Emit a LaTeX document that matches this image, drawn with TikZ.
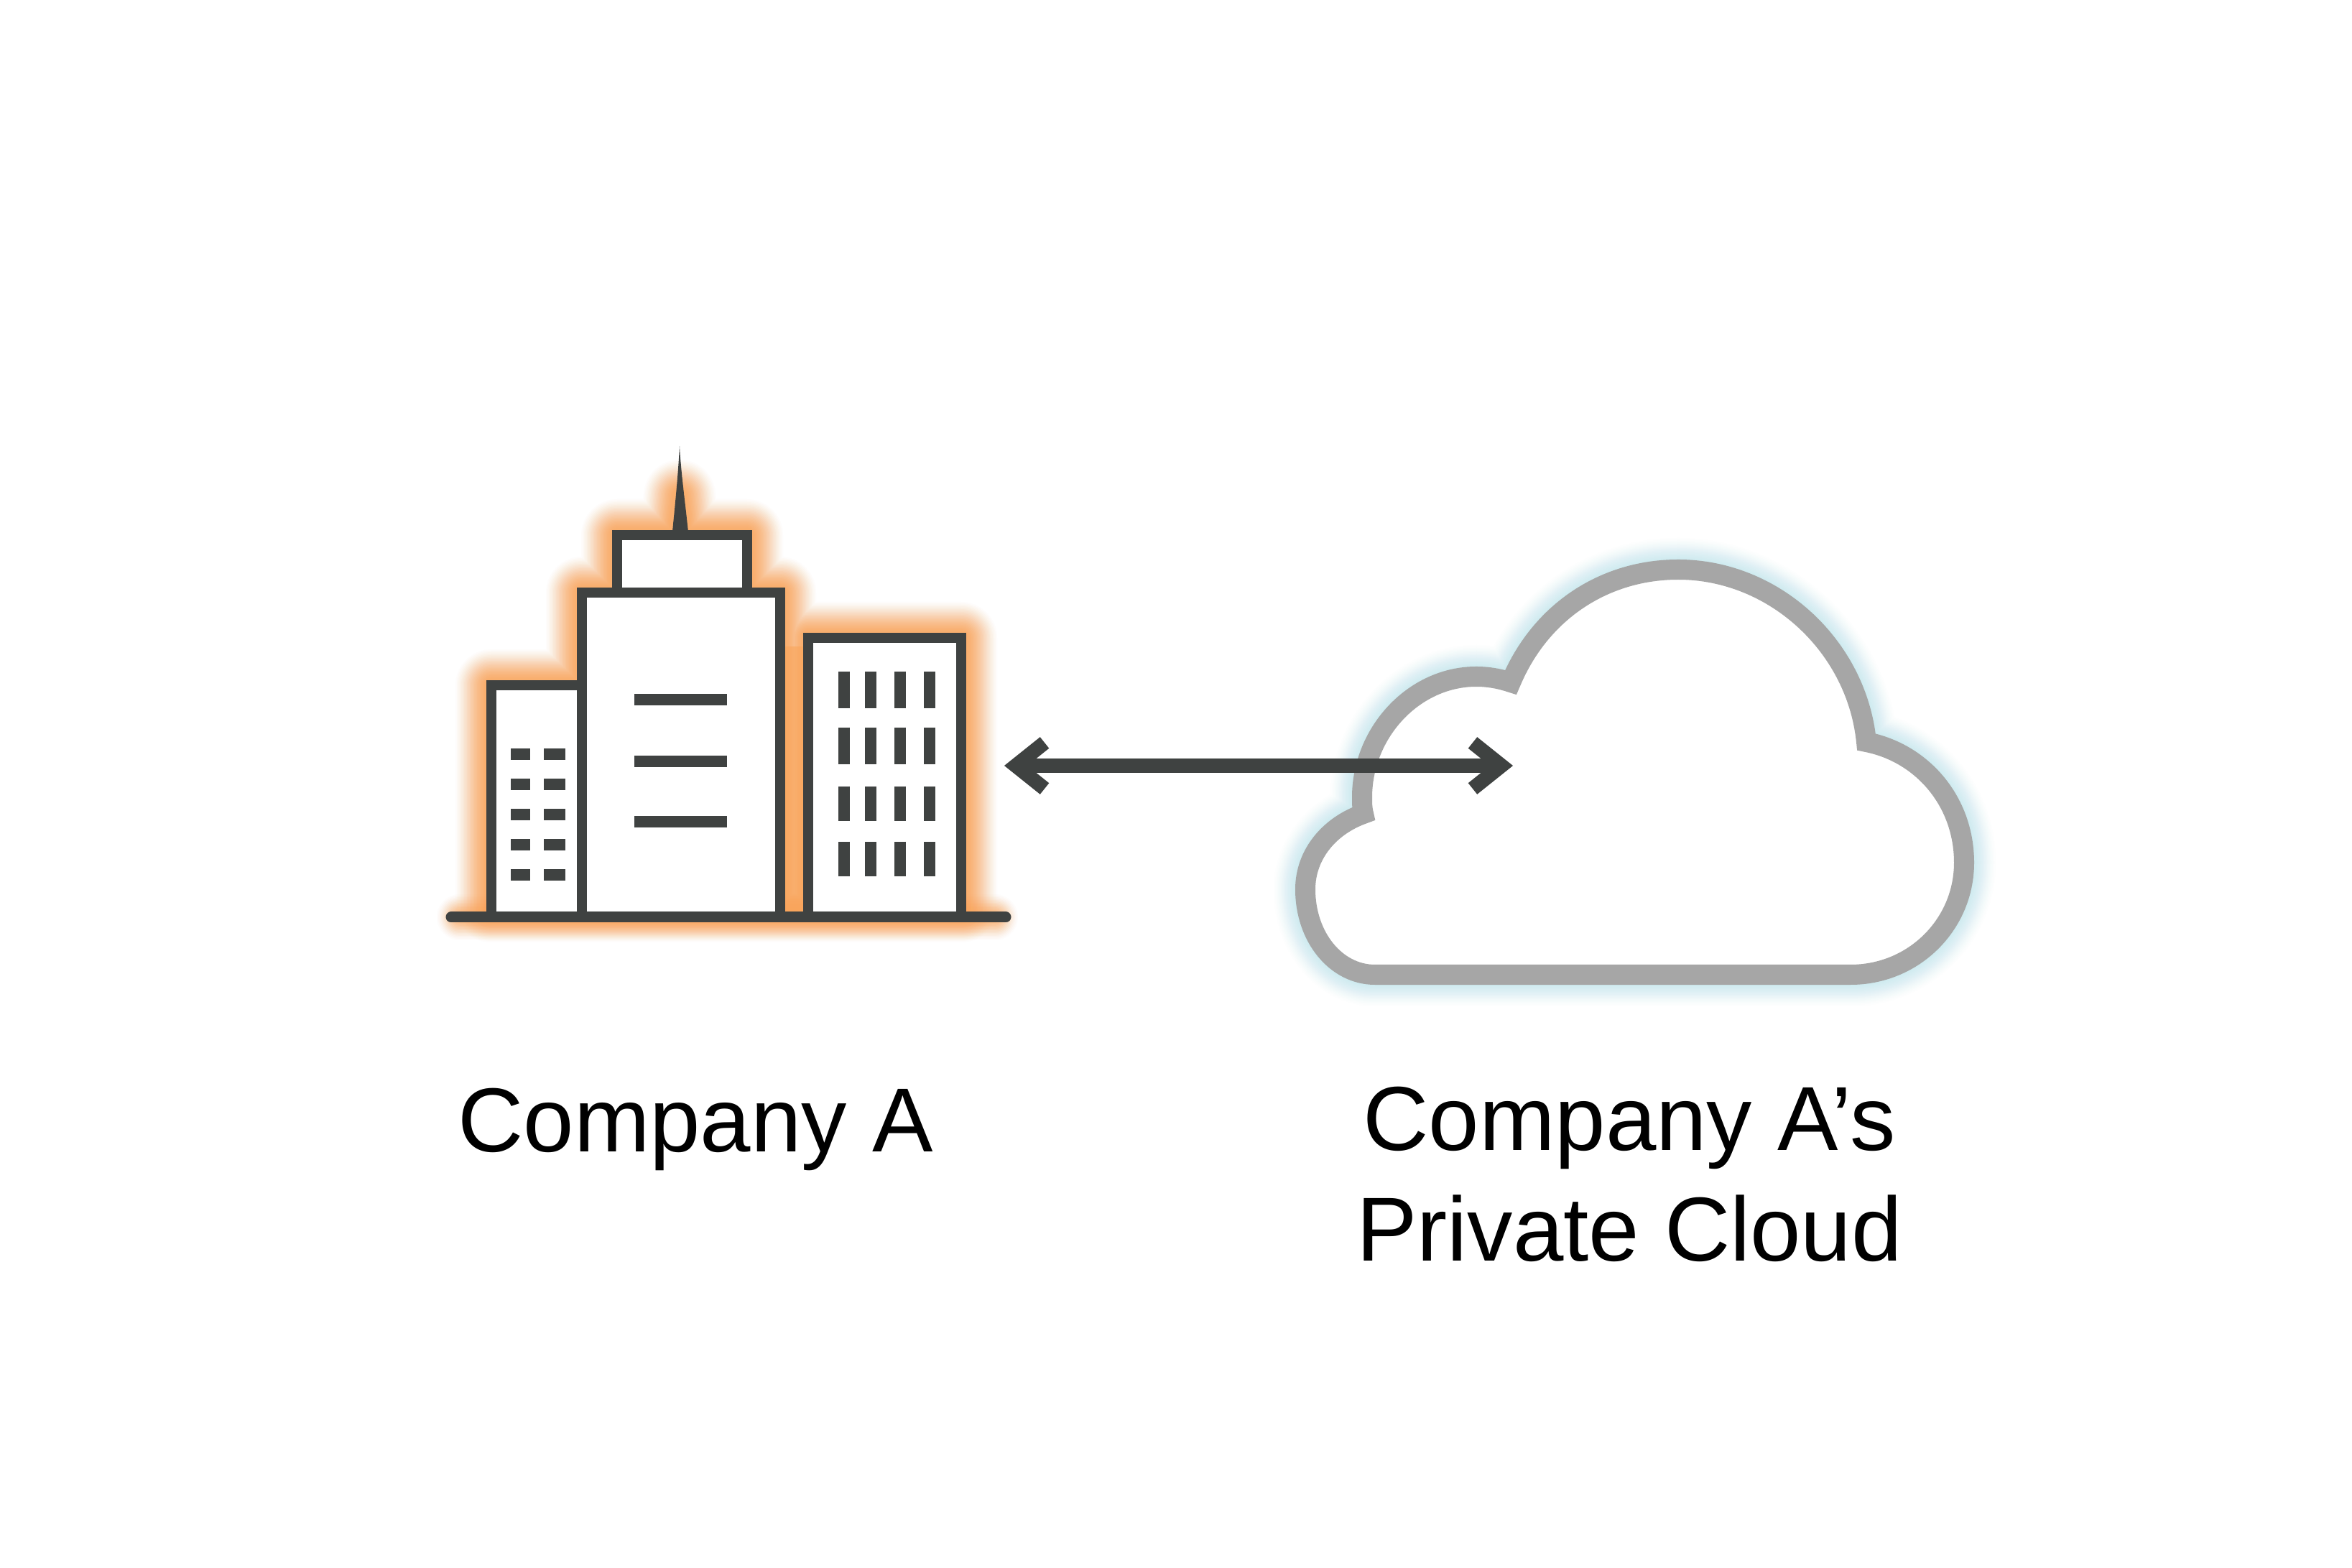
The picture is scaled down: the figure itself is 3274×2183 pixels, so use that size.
\documentclass[tikz,border=0pt]{standalone}
\usepackage{fontspec}
\setmainfont{Liberation Sans}
\usetikzlibrary{arrows.meta}
\definecolor{towerdark}{HTML}{3F4241}
\definecolor{towerglow}{HTML}{F9A55A}
\definecolor{cloudgrey}{HTML}{A6A6A6}
\definecolor{cloudglow}{HTML}{BFE6EE}
\tikzset{
  outline/.style={draw=towerdark,fill=white,line width=0.14cm},
  windowbar/.style={draw=towerdark,line width=0.16cm},
  caption/.style={anchor=base,font=\fontsize{36}{44}\selectfont,align=center,text=black,inner sep=0pt}
}
\def\skyline{(684,1262) -- (684,954) -- (810,954) -- (810,825) -- (859,825) -- (859,745) -- (940,745)
  -- (946,690) -- (952,745)
  -- (1040,745) -- (1040,825) -- (1086,825) -- (1086,1262) -- (1125,1262) -- (1125,888) -- (1338,888) -- (1338,1262) -- cycle}
\def\cloudline{(1914,1357) -- (2576,1357) .. controls (2664,1357) and (2734,1287) .. (2734,1201)
  .. controls (2734,1115) and (2675,1048) .. (2598,1033)
  .. controls (2585,900) and (2470,793) .. (2336,793) .. controls (2235,793) and (2145,850) .. (2103,950)
  .. controls (2088,945) and (2072,942) .. (2055,942) .. controls (1968,942) and (1896,1020) .. (1896,1110)
  .. controls (1896,1118) and (1896,1125) .. (1898,1133)
  .. controls (1850,1150) and (1817,1190) .. (1817,1238) .. controls (1817,1305) and (1860,1357) .. (1914,1357) -- cycle}
\begin{document}
\begin{tikzpicture}[x=0.01cm,y=-0.01cm]
  \useasboundingbox[fill=white] (0,0) rectangle (3274,2183);
  % glow behind the towers
  \foreach \w [evaluate=\w as \o using {0.025+0.12*(100-\w)/80}] in {100,96,...,20}
    \draw[towerglow,opacity=\o,line width=\w*0.01cm,line join=round] \skyline;
  \foreach \w [evaluate=\w as \o using {0.025+0.12*(64-\w)/48}] in {64,60,...,16}
    \draw[towerglow,opacity=\o,line width=\w*0.01cm,line cap=round] (640,1277) -- (1385,1277);
  \fill[towerglow,opacity=.6] (1086,900) rectangle (1125,1277);
  % towers
  \draw[outline] (684,1277) -- (684,954) -- (815,954) -- (815,1277);
  \draw[outline] (859,825) rectangle (1040,745);
  \draw[outline] (810,1277) rectangle (1086,825);
  \draw[outline] (1125,1277) rectangle (1338,888);
  \fill[towerdark] (935,750) .. controls (940,700) and (944,660) .. (946,621) .. controls (948,660) and (954,700) .. (959,750) -- cycle;
  \draw[towerdark,line width=0.15cm,line cap=round] (628,1277) -- (1400,1277);
  % windows
  \foreach \y in {1050,1092,1134,1176,1218} {
    \draw[windowbar] (711,\y) -- (738,\y);
    \draw[windowbar] (757,\y) -- (787,\y);
  }
  \foreach \y in {974,1060,1144}
    \draw[windowbar] (883,\y) -- (1012,\y);
  \foreach \x in {1175,1212,1253,1294} {
    \draw[windowbar] (\x,935) -- (\x,986);
    \draw[windowbar] (\x,1013) -- (\x,1064);
    \draw[windowbar] (\x,1095) -- (\x,1143);
    \draw[windowbar] (\x,1172) -- (\x,1220);
  }
  % cloud
  \foreach \w [evaluate=\w as \o using {0.025+0.1*(88-\w)/60}] in {88,84,...,28}
    \draw[cloudglow,opacity=\o,line width=\w*0.01cm] \cloudline;
  \draw[cloudgrey,fill=white,line width=0.28cm] \cloudline;
  % arrow
  \coordinate (companyPort) at (1398,1066);
  \coordinate (cloudPort) at (2106,1066);
  \draw[{Straight Barb[length=0.4cm,width=0.64cm,line width=0.2cm]}-{Straight Barb[length=0.4cm,width=0.64cm,line width=0.2cm]},towerdark,line width=0.2cm] (companyPort) -- (cloudPort);
  % labels
  \node[caption] (companyLabel) at (968,1604) {Company A};
  \node[caption] (cloudLabel) at (2268,1756) {Company A's\\Private Cloud};
\end{tikzpicture}
\end{document}
